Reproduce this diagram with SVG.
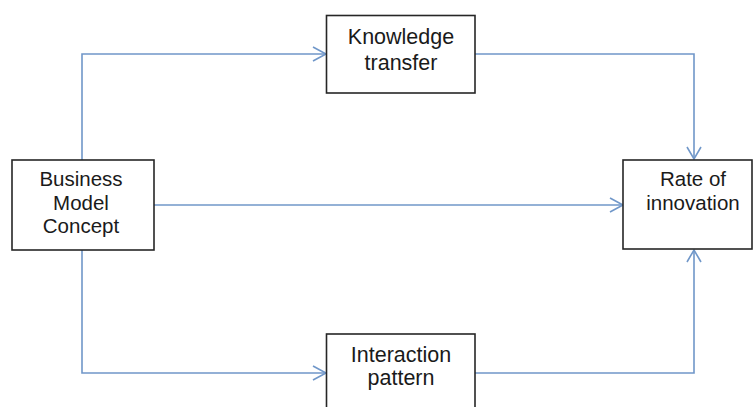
<svg xmlns="http://www.w3.org/2000/svg" width="753" height="407" viewBox="0 0 753 407">
  <style>
    .box { fill: #ffffff; stroke: #262626; stroke-width: 1.6; }
    .lbl { font-family: "Liberation Sans", Arial, sans-serif; font-size: 20.5px; fill: #1a1a1a; text-anchor: middle; }
    .wire { fill: none; stroke: #7097c9; stroke-width: 1.6; }
    .head { fill: none; stroke: #7097c9; stroke-width: 1.6; stroke-linejoin: miter; }
  </style>
  <rect width="753" height="407" fill="#ffffff"/>

  <!-- connectors -->
  <g id="connectors">
    <!-- Business Model Concept -> Knowledge transfer -->
    <path class="wire" d="M82,160 V54 H326"/>
    <path class="head" d="M313,47 L326,54 L313,61"/>
    <!-- Knowledge transfer -> Rate of innovation -->
    <path class="wire" d="M475,54 H694 V159"/>
    <path class="head" d="M687,147 L694,159 L701,147"/>
    <!-- Business Model Concept -> Rate of innovation -->
    <path class="wire" d="M154,205 H623"/>
    <path class="head" d="M610,198 L623,205 L610,212"/>
    <!-- Business Model Concept -> Interaction pattern -->
    <path class="wire" d="M82,250 V373 H326"/>
    <path class="head" d="M313,366 L326,373 L313,380"/>
    <!-- Interaction pattern -> Rate of innovation -->
    <path class="wire" d="M475,373 H694 V250"/>
    <path class="head" d="M687,262 L694,250 L701,262"/>
  </g>

  <g id="knowledge-transfer">
    <rect class="box" x="326.5" y="15.5" width="148.5" height="77.5"/>
    <text class="lbl" style="font-size:21.5px" x="401" y="44">Knowledge</text>
    <text class="lbl" style="font-size:21.5px" x="401" y="70">transfer</text>
  </g>

  <g id="business-model-concept">
    <rect class="box" x="12" y="160" width="142" height="90"/>
    <text class="lbl" x="81" y="186">Business</text>
    <text class="lbl" x="81" y="210">Model</text>
    <text class="lbl" x="81" y="233">Concept</text>
  </g>

  <g id="rate-of-innovation">
    <rect class="box" x="623" y="160" width="129" height="89"/>
    <text class="lbl" x="693" y="186">Rate of</text>
    <text class="lbl" x="693" y="210">innovation</text>
  </g>

  <g id="interaction-pattern">
    <rect class="box" x="326.5" y="334" width="148.5" height="80"/>
    <text class="lbl" style="font-size:21.5px" x="401" y="362">Interaction</text>
    <text class="lbl" style="font-size:21.5px" x="401" y="385">pattern</text>
  </g>
</svg>
